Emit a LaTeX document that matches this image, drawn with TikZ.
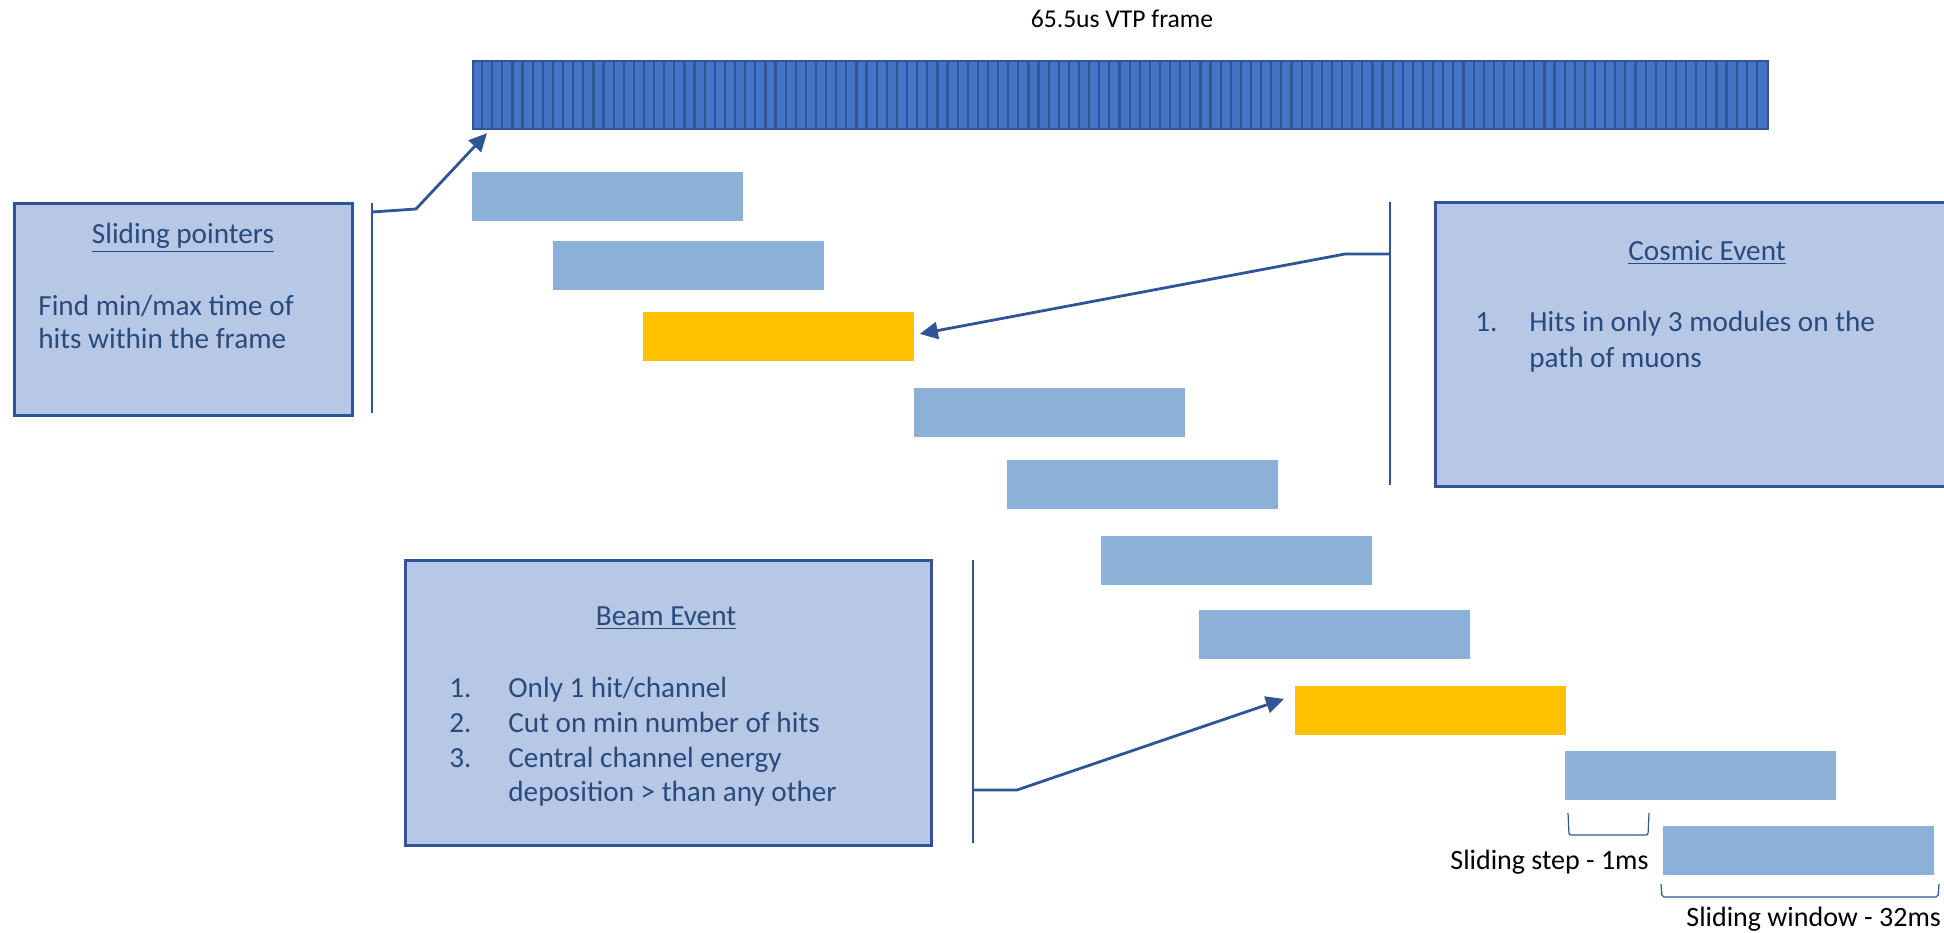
\documentclass[tikz,border=0pt]{standalone}
\usepackage{fontspec}
\setmainfont{Carlito}
\usetikzlibrary{arrows.meta,calc}

\definecolor{framefill}{HTML}{4472C4}
\definecolor{frameline}{HTML}{2F5597}
\definecolor{winfill}{HTML}{8CB1D8}
\definecolor{hitfill}{HTML}{FFC000}
\definecolor{boxfill}{HTML}{B6C8E6}
\definecolor{boxtext}{HTML}{284A7C}

\tikzset{
  win/.style={fill=winfill, draw=none, minimum width=135.5pt, minimum height=24.5pt,
              anchor=north west, inner sep=0pt},
  hit/.style={win, fill=hitfill},
  infobox/.style={fill=boxfill, draw=frameline, line width=1.3pt, anchor=north west, inner sep=0pt},
  boxtitle/.style={text=boxtext, font=\fontsize{14.6}{17}\selectfont, anchor=mid, inner sep=0pt},
  boxline/.style={text=boxtext, font=\fontsize{14.6}{17}\selectfont, anchor=mid west, inner sep=0pt},
  plain/.style={text=black, font=\fontsize{14}{16}\selectfont, inner sep=0pt},
  bracketline/.style={draw=frameline, line width=1.2pt},
  pointer/.style={draw=frameline, line width=1.4pt, -{Triangle[length=9pt,width=8.5pt]}},
  span/.style={draw=frameline, line width=0.6pt, rounded corners=1pt}
}

\begin{document}
\begin{tikzpicture}[x=0.5pt,y=-0.5pt]
\useasboundingbox (0,0) rectangle (1944,932);

% the VTP frame: 128 time slots
\node[plain, font=\fontsize{12.8}{15}\selectfont] (title) at (1122,19) {65.5us VTP frame};
\node[fill=framefill, draw=frameline, line width=1.1pt, minimum width=647.5pt, minimum height=34pt,
      anchor=north west, inner sep=0pt] (frame) at (472,60) {};
\foreach \i in {1,...,127}{
  \draw[frameline, line width=1.1pt] ($(frame.north west)+(\i*10.1172,0)$) -- ($(frame.south west)+(\i*10.1172,0)$);
}

% sliding windows
\node[win] (b1)  at (472,172) {};
\node[win] (b2)  at (553,241) {};
\node[hit] (b3)  at (643,312) {};
\node[win] (b4)  at (914,388) {};
\node[win] (b5)  at (1007,460) {};
\node[win] (b6)  at (1101,536) {};
\node[win] (b7)  at (1199,610) {};
\node[hit] (b8)  at (1295,686) {};
\node[win] (b9)  at (1565,751) {};
\node[win] (b10) at (1663,826) {};

% sliding pointers box
\node[infobox, minimum width=169pt, minimum height=106pt] (sp) at (13,202) {};
\node[boxtitle] (sptitle) at (183,239) {\underline{Sliding pointers}};
\node[boxline] (spl1) at (38,311) {Find min/max time of};
\node[boxline] (spl2) at (38,344) {hits within the frame};
\coordinate (spt) at (372,203);
\coordinate (spb) at (372,413);
\coordinate (spj) at (372,212);
\coordinate (spk) at (416,209);
\draw[bracketline] (spt) -- (spb);
\draw[pointer] (spj) -- (spk) -- ($(frame.south west)+(15,3)$);

% cosmic event box (runs past the right edge)
\node[infobox, minimum width=258pt, minimum height=142pt] (ce) at (1434,201) {};
\node[boxtitle] (cetitle) at (1707,256) {\underline{Cosmic Event}};
\node[boxline] (cen1) at (1475,327) {1.};
\node[boxline] (cel1) at (1529,327) {Hits in only 3 modules on the};
\node[boxline] (cel2) at (1529,363) {path of muons};
\coordinate (cet) at (1390,202);
\coordinate (ceb) at (1390,485);
\coordinate (cej) at (1390,254);
\coordinate (cek) at (1345,254);
\draw[bracketline] (cet) -- (ceb);
\draw[pointer] (cej) -- (cek) -- ($(b3.east)+(5,-3)$);

% beam event box
\node[infobox, minimum width=263pt, minimum height=142.5pt] (be) at (404,559) {};
\node[boxtitle] (betitle) at (666,621) {\underline{Beam Event}};
\node[boxline] (ben1) at (449,693) {1.};
\node[boxline] (bel1) at (508,693) {Only 1 hit/channel};
\node[boxline] (ben2) at (449,728) {2.};
\node[boxline] (bel2) at (508,728) {Cut on min number of hits};
\node[boxline] (ben3) at (449,763) {3.};
\node[boxline] (bel3) at (508,763) {Central channel energy};
\node[boxline] (bel4) at (508,797) {deposition > than any other};
\coordinate (bet) at (973,560);
\coordinate (beb) at (973,843);
\coordinate (bej) at (973,790);
\coordinate (bek) at (1017,790);
\draw[bracketline] (bet) -- (beb);
\draw[pointer] (bej) -- (bek) -- ($(b8.west)+(-11,-12)$);

% step and window spans
\coordinate (st1) at (1568,813);
\coordinate (st2) at (1649,813);
\draw[span] (st1) -- (1569,835) -- (1648,835) -- (st2);
\node[plain, anchor=mid west] (steplabel) at (1450,865) {Sliding step - 1ms};
\coordinate (sw1) at (1661,884);
\coordinate (sw2) at (1939,884);
\draw[span] (sw1) -- (1662,897) -- (1938,897) -- (sw2);
\node[plain, anchor=mid west] (winlabel) at (1686,922) {Sliding window - 32ms};
\end{tikzpicture}
\end{document}
